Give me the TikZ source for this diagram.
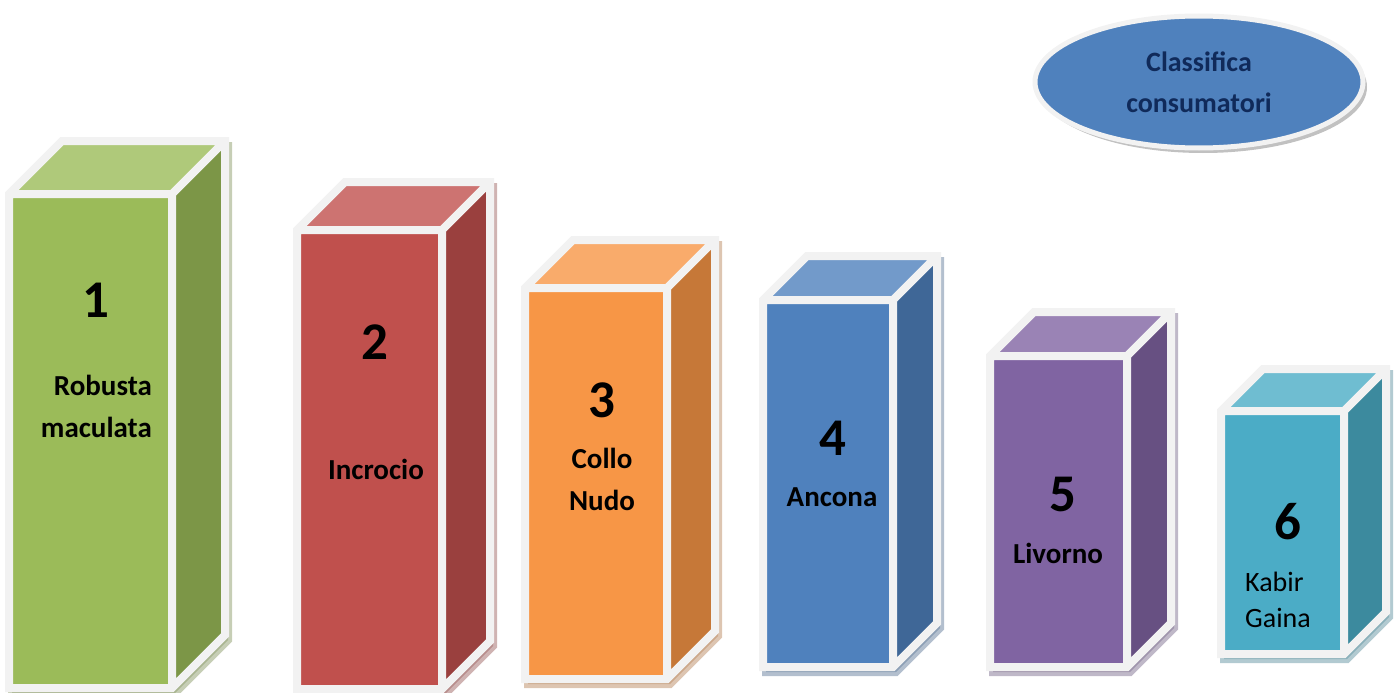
\documentclass[tikz,border=0pt]{standalone}
\usepackage{fontspec}
\setmainfont{Carlito}
\usetikzlibrary{shapes.geometric, shadows}
\definecolor{RimGrey}{RGB}{242, 242, 242}
\definecolor{PolloVerde}{RGB}{155, 187, 89}
\definecolor{PolloRosso}{RGB}{192, 80, 77}
\definecolor{PolloArancio}{RGB}{247, 150, 70}
\definecolor{PolloBlu}{RGB}{79, 129, 189}
\definecolor{PolloViola}{RGB}{128, 100, 162}
\definecolor{PolloAcqua}{RGB}{75, 172, 198}
\definecolor{NavyText}{RGB}{16, 42, 90}

\begin{document}
\begin{tikzpicture}[x=1pt, y=-1pt, line join=miter,
    numero/.style={font=\fontsize{53}{53}\selectfont\bfseries, inner sep=0},
    etichetta/.style={font=\fontsize{29}{42}\selectfont\bfseries, inner sep=0, align=center}]
    \useasboundingbox (0,0) rectangle (1398,693);

    % Colonne 3D
    \foreach \xa/\xb/\ya/\yb/\d/\c in {9/172/194/688/53/PolloVerde, 297/442/230/689/48/PolloRosso,
        525/667/288/679/48/PolloArancio, 763/893/300/667/44/PolloBlu,
        990/1127/356/667/44/PolloViola, 1221/1344/411/654/42/PolloAcqua}{
        % ombra
        \filldraw[\c!50!gray, opacity=0.5, line width=8pt]
            (\xa+3,\yb+5) -- (\xa+3,\ya+5) -- (\xa+\d+3,\ya-\d+5) -- (\xb+\d+3,\ya-\d+5)
            -- (\xb+\d+3,\yb-\d+5) -- (\xb+3,\yb+5) -- cycle;
        % facce
        \fill[\c] (\xa,\ya) rectangle (\xb,\yb);
        \fill[\c!80!white] (\xa,\ya) -- (\xa+\d,\ya-\d) -- (\xb+\d,\ya-\d) -- (\xb,\ya) -- cycle;
        \fill[\c!80!black] (\xb,\ya) -- (\xb+\d,\ya-\d) -- (\xb+\d,\yb-\d) -- (\xb,\yb) -- cycle;
        % bordi
        \draw[RimGrey, line width=8pt]
            (\xa,\yb) -- (\xa,\ya) -- (\xa+\d,\ya-\d) -- (\xb+\d,\ya-\d)
            -- (\xb+\d,\yb-\d) -- (\xb,\yb) -- cycle
            (\xa,\ya) -- (\xb,\ya) -- (\xb+\d,\ya-\d)
            (\xb,\ya) -- (\xb,\yb);
    }

    % Etichette
    \node[numero] (n1) at (96,300) {1};
    \node[etichetta, align=right, anchor=east] (l1) at (152,406) {Robusta\\maculata};
    \node[numero] (n2) at (375,342) {2};
    \node[etichetta] (l2) at (376,469) {Incrocio};
    \node[numero] (n3) at (602,400) {3};
    \node[etichetta] (l3) at (602,479) {Collo\\Nudo};
    \node[numero] (n4) at (833,438) {4};
    \node[etichetta] (l4) at (832,497) {Ancona};
    \node[numero] (n5) at (1063,494) {5};
    \node[etichetta] (l5) at (1058,553) {Livorno};
    \node[numero] (n6) at (1288,522) {6};
    \node[etichetta, font=\fontsize{28}{36}\selectfont, align=left, anchor=west] (l6) at (1245,600) {Kabir\\Gaina};

    % Titolo
    \node[ellipse, minimum width=328pt, minimum height=132pt, fill=PolloBlu, draw=RimGrey,
        line width=5pt, drop shadow={shadow xshift=4pt, shadow yshift=-5pt, fill=gray!70, opacity=0.7},
        etichetta, font=\fontsize{28}{41}\selectfont\bfseries, text=NavyText] (titolo) at (1199,82) {Classifica\\consumatori};
\end{tikzpicture}
\end{document}
